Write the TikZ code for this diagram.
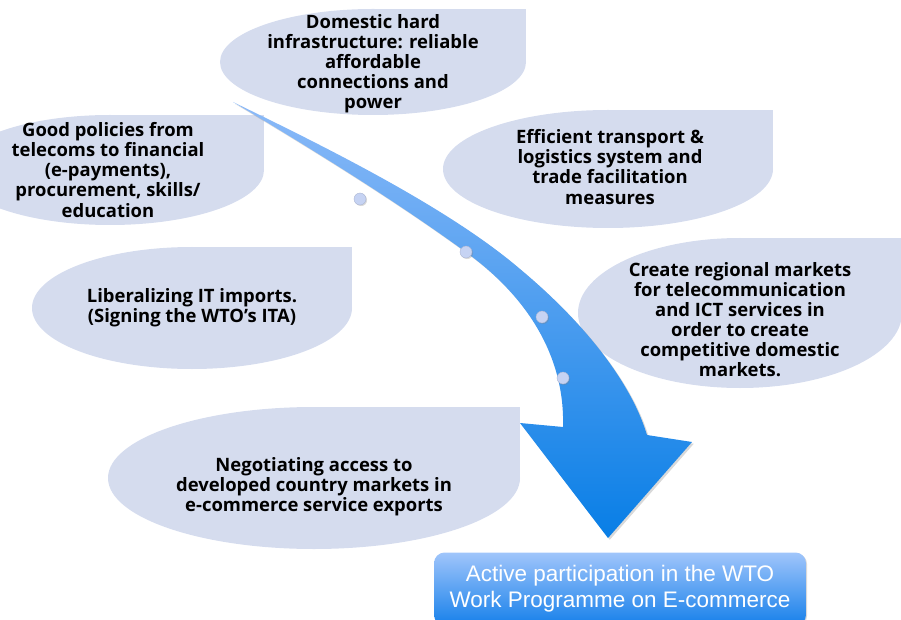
\documentclass[tikz,border=0pt]{standalone}
\usepackage{fontspec}
\setmainfont{Open Sans}
\newfontfamily\boxfont{Liberation Sans}
\usetikzlibrary{shadows}

\definecolor{bubblefill}{RGB}{213,220,238}
\definecolor{arrowtop}{RGB}{140,186,248}
\definecolor{arrowbottom}{RGB}{8,126,230}
\definecolor{dotfill}{RGB}{198,211,243}
\definecolor{boxtop}{RGB}{160,197,251}
\definecolor{boxbottom}{RGB}{22,128,234}

\tikzset{
  bubble/.style = {fill = bubblefill},
  bubbletext/.style = {align = center, font = \fontsize{10.5}{11.4}\selectfont\bfseries},
  stepdot/.style = {fill = dotfill, draw = dotfill!85!black, line width = 0.2pt,
    drop shadow = {shadow xshift = 0.6pt, shadow yshift = -0.6pt, opacity = 0.3}},
  wtobox/.style = {rounded corners = 6pt, top color = boxtop, bottom color = boxbottom,
    minimum width = 7.44cm, minimum height = 1.46cm, inner sep = 0pt, align = center,
    text = white, font = \boxfont\fontsize{12.8}{14.8}\selectfont,
    drop shadow = {shadow xshift = 0.6pt, shadow yshift = -0.6pt, opacity = 0.3}}
}

\begin{document}
\begin{tikzpicture}[x = 0.02cm, y = 0.02cm]
	%\draw[help lines, step = 50] (0,0) grid (901,619);
	\useasboundingbox (0,0) rectangle (901,619);

	% bubbles: ellipse with a square top right corner
	\fill[bubble] (373,557) ellipse (153 and 53);
	\fill[bubble] (373,557) rectangle (526,610);
	\fill[bubble] (110,449) ellipse (154 and 55);
	\fill[bubble] (110,449) rectangle (264,504);
	\fill[bubble] (608,450) ellipse (165 and 59);
	\fill[bubble] (608,450) rectangle (773,509);
	\fill[bubble] (740,306) ellipse (162 and 75);
	\fill[bubble] (740,306) rectangle (902,381);
	\fill[bubble] (192,311) ellipse (160 and 61);
	\fill[bubble] (192,311) rectangle (352,372);
	\fill[bubble] (314,141) ellipse (206 and 71);
	\fill[bubble] (314,141) rectangle (520,212);

	\node[bubbletext] (domestic) at (373,555) {Domestic hard\\infrastructure: reliable\\affordable\\connections and\\power};
	\node[bubbletext] (policies) at (108,449) {Good policies from\\telecoms to financial\\(e-payments),\\procurement, skills/\\education};
	\node[bubbletext] (transport) at (610,452) {Efficient transport \&\\logistics system and\\trade facilitation\\measures};
	\node[bubbletext] (regional) at (740,299) {Create regional markets\\for telecommunication\\and ICT services in\\order to create\\competitive domestic\\markets.};
	\node[bubbletext] (imports) at (192,311) {Liberalizing IT imports.\\(Signing the WTO’s ITA)};
	\node[bubbletext] (negotiating) at (314,132) {Negotiating access to\\developed country markets in\\e-commerce service exports};

	% curved arrow
	\shade[top color = arrowtop, bottom color = arrowbottom,
		drop shadow = {shadow xshift = 1pt, shadow yshift = -1pt, opacity = 0.3}]
		(233,517) .. controls (330,470) and (450,410) .. (520,350)
		.. controls (580,300) and (630,240) .. (647,184)
		-- (692,177) -- (608,81) -- (520,196) -- (563,192)
		.. controls (565,260) and (530,320) .. (467,366)
		.. controls (400,415) and (320,465) .. (233,517)
		-- cycle;

	\fill[stepdot] (360,420) circle (6);
	\fill[stepdot] (466,367) circle (6);
	\fill[stepdot] (542,302) circle (6);
	\fill[stepdot] (563,241) circle (6);

	\node[wtobox] (wto) at (620,30) {Active participation in the WTO\\Work Programme on E-commerce};
\end{tikzpicture}
\end{document}
